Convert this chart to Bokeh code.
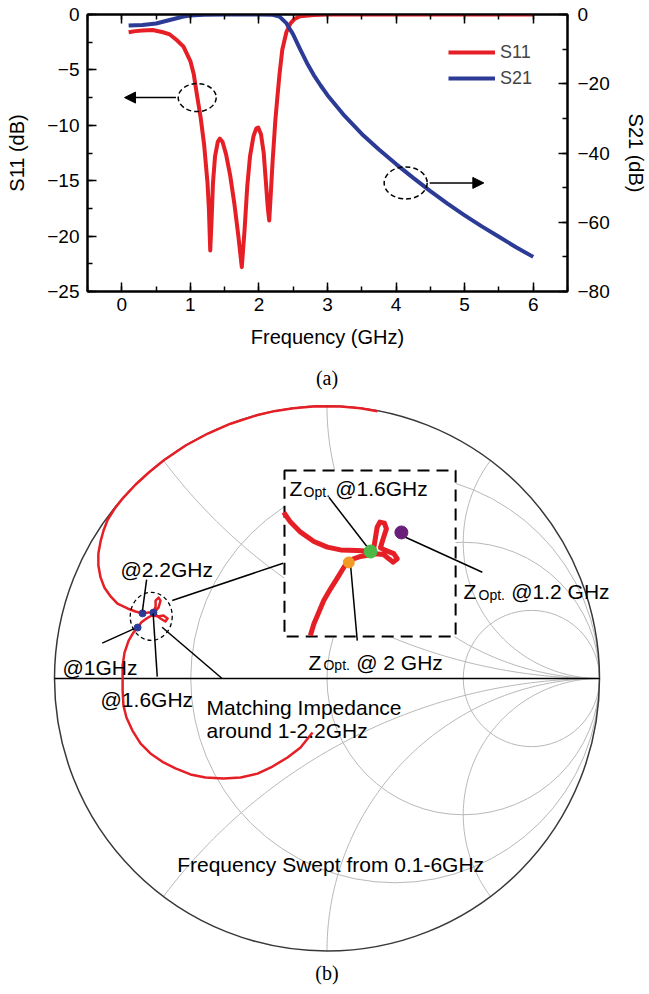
import math
import numpy as np
from bokeh.plotting import figure
from bokeh.models import (Range1d, LinearAxis, SingleIntervalTicker, Legend, LegendItem,
                          Arrow, NormalHead, CustomJSTickFormatter)
from bokeh.core.properties import value
from bokeh.embed import file_html
from bokeh.resources import INLINE

SANS = "Liberation Sans"
SERIF = "Liberation Serif"
RED = "#e61e25"
BLUE = "#2c3b96"
GRID = "#b8b8b8"

# ---------------- (a) S-parameters vs frequency ----------------
s11_freq = [0.1, 0.2, 0.3, 0.45, 0.6, 0.7, 0.8, 0.9, 1.0, 1.05, 1.1, 1.15, 1.2, 1.25,
            1.27, 1.29, 1.31, 1.33, 1.36, 1.4, 1.43, 1.47, 1.52, 1.58, 1.64, 1.7, 1.75,
            1.79, 1.83, 1.87, 1.92, 1.96, 1.99, 2.03, 2.07, 2.1, 2.13, 2.15, 2.17, 2.2,
            2.24, 2.27, 2.3, 2.34, 2.4, 2.46, 2.52, 2.6, 2.8, 3.0, 4.0, 5.0, 6.0]
s11_db = [-1.6, -1.5, -1.45, -1.4, -1.6, -1.8, -2.3, -2.9, -4.2, -5.4, -7.4, -9.3, -11.7, -15.2,
          -17.5, -21.3, -18.5, -15.2, -12.8, -11.5, -11.2, -11.5, -12.6, -14.5, -17.0, -20.0, -22.8,
          -19.5, -15.5, -12.8, -11.0, -10.3, -10.2, -10.8, -12.5, -15.0, -17.5, -18.6, -16.5, -13.2,
          -9.5, -7.4, -5.4, -3.2, -1.6, -0.8, -0.4, -0.15, -0.05, 0.0, 0.0, 0.0, 0.0]

s21_freq = [0.1, 0.3, 0.5, 0.7, 0.8, 0.9, 1.0, 1.2, 1.5, 2.0, 2.2, 2.3, 2.4, 2.5, 2.6, 2.7,
            2.8, 2.9, 3.0, 3.25, 3.5, 3.75, 4.0, 4.25, 4.5, 4.75, 5.0, 5.25, 5.5, 5.75, 6.0]
s21_db = [-3.2, -3.0, -2.6, -1.6, -1.1, -0.6, -0.3, -0.05, 0.0, 0.0, -0.1, -0.6, -2.5, -5.8, -10.0, -14.0,
          -17.5, -20.5, -23.3, -29.3, -34.5, -39.0, -43.2, -47.2, -51.0, -54.6, -58.0, -61.2, -64.2, -67.2, -70.0]

freq_lim = (-0.5, 6.5)
s11_lim = (-25, 0)
s21_lim = (-80, 0)

p1 = figure(width=649, height=360, output_backend="svg", toolbar_location=None,
            x_range=Range1d(*freq_lim), y_range=Range1d(*s11_lim),
            min_border_left=87, min_border_right=80, min_border_top=14, min_border_bottom=69,
            x_axis_location=None, y_axis_location=None)
p1.extra_y_ranges = {"s21": Range1d(*s21_lim)}
p1.xgrid.visible = False
p1.ygrid.visible = False
p1.outline_line_color = "black"
p1.outline_line_width = 2
p1.background_fill_color = "white"
p1.border_fill_color = "white"


def style_axis(ax, standoff):
    ax.axis_line_color = "black"
    ax.axis_line_width = 2
    ax.major_tick_line_color = "black"
    ax.major_tick_line_width = 1.5
    ax.minor_tick_line_color = "black"
    ax.minor_tick_line_width = 1.5
    ax.major_tick_in = 9
    ax.major_tick_out = 0
    ax.minor_tick_in = 5
    ax.minor_tick_out = 0
    ax.major_label_text_font = SANS
    ax.major_label_text_font_size = "19px"
    ax.major_label_text_color = "black"
    ax.major_label_standoff = standoff
    ax.axis_label_text_font = SANS
    ax.axis_label_text_font_size = "20px"
    ax.axis_label_text_font_style = "normal"
    ax.axis_label_text_color = "black"
    ax.axis_label_standoff = 12


bottom = LinearAxis(ticker=SingleIntervalTicker(interval=1, num_minor_ticks=2),
                    axis_label="Frequency (GHz)")
style_axis(bottom, 6)
left = LinearAxis(ticker=SingleIntervalTicker(interval=5, num_minor_ticks=2),
                  axis_label="S11 (dB)")
style_axis(left, 8)
left.axis_label_standoff = 16
right = LinearAxis(y_range_name="s21",
                   ticker=SingleIntervalTicker(interval=20, num_minor_ticks=2),
                   axis_label="S21 (dB)")
style_axis(right, 10)
top = LinearAxis(ticker=SingleIntervalTicker(interval=1, num_minor_ticks=2),
                 formatter=CustomJSTickFormatter(code="return ''"))
style_axis(top, 0)
top.major_label_text_font_size = "0px"

p1.add_layout(bottom, "below")
p1.add_layout(left, "left")
p1.add_layout(right, "right")
p1.add_layout(top, "above")

r11 = p1.line(s11_freq, s11_db, line_color=RED, line_width=4, line_join="round")
r21 = p1.line(s21_freq, s21_db, line_color=BLUE, line_width=4, line_join="round",
              y_range_name="s21")

legend = Legend(items=[LegendItem(label="S11", renderers=[r11]),
                       LegendItem(label="S21", renderers=[r21])],
                location=(361, 200), orientation="vertical",
                border_line_color=None, background_fill_alpha=0,
                padding=0, spacing=0, margin=0,
                glyph_width=47, glyph_height=26, label_height=26, label_standoff=5,
                label_text_font=SANS, label_text_font_size="18px")
p1.add_layout(legend)

# dashed callouts pointing to the axis each curve belongs to
p1.ellipse(x=[1.1, 4.14], y=[-7.5, -15.2], width=[38, 43], height=[28, 32],
           width_units="screen", height_units="screen",
           fill_color=None, line_color="black", line_width=1.5, line_dash="5 3")
p1.add_layout(Arrow(end=NormalHead(size=11, fill_color="black", line_color="black"),
                    x_start=0.79, y_start=-7.5, x_end=0.04, y_end=-7.5,
                    line_color="black", line_width=1.5))
p1.add_layout(Arrow(end=NormalHead(size=11, fill_color="black", line_color="black"),
                    x_start=4.49, y_start=-15.2, x_end=5.28, y_end=-15.2,
                    line_color="black", line_width=1.5))

# ---------------- (b) Smith chart of the matching impedance ----------------
# reflection coefficient trajectory, 0.1 GHz -> 6 GHz
gamma_re = [-0.053, -0.097, -0.145, -0.200, -0.255, -0.317, -0.380, -0.446, -0.501, -0.556,
            -0.600, -0.648, -0.684, -0.714, -0.736, -0.747, -0.750, -0.750, -0.750, -0.743,
            -0.728, -0.710, -0.695, -0.681, -0.662, -0.644, -0.622, -0.600, -0.585, -0.593,
            -0.611, -0.629, -0.637, -0.629, -0.629, -0.618, -0.611, -0.618, -0.633, -0.655,
            -0.677, -0.703, -0.732, -0.769, -0.794, -0.817, -0.831, -0.839, -0.839, -0.831,
            -0.820, -0.806, -0.776, -0.747, -0.703, -0.655, -0.600, -0.519, -0.437, -0.354,
            -0.255, -0.189, -0.123, -0.042, 0.050, 0.123, 0.185]
gamma_im = [-0.198, -0.253, -0.290, -0.323, -0.349, -0.363, -0.367, -0.363, -0.352, -0.330,
            -0.308, -0.275, -0.239, -0.191, -0.143, -0.099, -0.044, 0.000, 0.048, 0.095,
            0.139, 0.169, 0.187, 0.206, 0.220, 0.231, 0.228, 0.231, 0.220, 0.209,
            0.220, 0.235, 0.242, 0.264, 0.286, 0.297, 0.286, 0.261, 0.242, 0.242,
            0.239, 0.246, 0.257, 0.275, 0.301, 0.334, 0.371, 0.415, 0.459, 0.503,
            0.543, 0.580, 0.628, 0.664, 0.711, 0.755, 0.800, 0.855, 0.899, 0.935,
            0.967, 0.982, 0.992, 0.999, 0.998, 0.992, 0.981]

# marked frequencies on the trajectory
mark_re = [-0.695, -0.637, -0.677]
mark_im = [0.187, 0.242, 0.239]

# magnified view of the 1-2.2 GHz cluster
zoom_re = [-0.061, -0.048, -0.030, -0.012, 0.013, 0.040, 0.062, 0.080, 0.123, 0.178,
           0.208, 0.227, 0.243, 0.258, 0.245, 0.215, 0.196, 0.206, 0.218, 0.211,
           0.194, 0.184, 0.172, 0.160, 0.111, 0.050, 0.001, -0.048, -0.097, -0.134, -0.159]
zoom_im = [0.158, 0.201, 0.243, 0.286, 0.329, 0.372, 0.408, 0.433, 0.448, 0.458,
           0.455, 0.439, 0.427, 0.439, 0.458, 0.470, 0.480, 0.513, 0.549, 0.570,
           0.574, 0.555, 0.480, 0.467, 0.470, 0.472, 0.482, 0.503, 0.537, 0.574, 0.610]

# optimum impedances at 1.2, 1.6 and 2 GHz (magnified view)
zopt_re = [0.273, 0.160, 0.080]
zopt_im = [0.536, 0.466, 0.426]
zopt_col = ["#6a1f7a", "#4cb848", "#f39a26"]
zopt_size = [13, 13, 11]

# Smith grid values
r_circles = [1 / 3, 1, 3]
x_arcs = [0.5, 1, 2]

PX = 272.5  # pixels per unit reflection coefficient
p2 = figure(width=649, height=634, output_backend="svg", toolbar_location=None,
            x_range=Range1d(-326.5 / PX, 322.5 / PX), y_range=Range1d(-316 / PX, 318 / PX),
            min_border=0, x_axis_location=None, y_axis_location=None)
p2.xgrid.visible = False
p2.ygrid.visible = False
p2.outline_line_color = None
p2.background_fill_color = "white"
p2.border_fill_color = "white"

# constant resistance circles
p2.circle(x=[r / (1 + r) for r in r_circles], y=[0] * len(r_circles),
          radius=[1 / (1 + r) for r in r_circles],
          fill_color=None, line_color=GRID, line_width=1)
# constant reactance arcs, clipped to the unit circle
for xv in x_arcs:
    rad = 1 / xv
    ix = (xv ** 2 - 1) / (xv ** 2 + 1)
    iy = 2 * xv / (xv ** 2 + 1)
    a_end = math.atan2(iy - rad, ix - 1)
    if a_end > -math.pi / 2:
        a_end -= 2 * math.pi
    th = np.linspace(-math.pi / 2, a_end, 120)
    ax_ = 1 + rad * np.cos(th)
    ay_ = rad + rad * np.sin(th)
    p2.line(ax_, ay_, line_color=GRID, line_width=1)
    p2.line(ax_, -ay_, line_color=GRID, line_width=1)

p2.circle(x=[0], y=[0], radius=[1], fill_color=None, line_color="#383838", line_width=1.5)
p2.line([-1, 1], [0, 0], line_color="black", line_width=1.3)

p2.line(gamma_re, gamma_im, line_color=RED, line_width=2.5, line_join="round")
p2.scatter(mark_re, mark_im, size=7, fill_color=BLUE, line_color=BLUE)

# dashed ring round the cluster
p2.ellipse(x=[-0.645], y=[0.228], width=[42], height=[48],
           width_units="screen", height_units="screen",
           fill_color=None, line_color="black", line_width=1.3, line_dash="4 3")

# magnified inset
p2.quad(left=[-0.156], right=[0.472], top=[0.763], bottom=[0.154],
        fill_color="white", line_color="black", line_width=2, line_dash="12 7")
p2.line(zoom_re, zoom_im, line_color=RED, line_width=5, line_join="round")

# leader lines
p2.segment(x0=[-0.662, -0.825, -0.623, -0.385, -0.568, 0.007, 0.282, 0.086],
           y0=[0.363, 0.130, 0.007, 0.000, 0.286, 0.665, 0.521, 0.421],
           x1=[-0.677, -0.709, -0.638, -0.605, -0.161, 0.160, 0.570, 0.111],
           y1=[0.250, 0.182, 0.239, 0.188, 0.423, 0.467, 0.390, 0.139],
           line_color="black", line_width=1.5)

p2.scatter(zopt_re, zopt_im, size=zopt_size, fill_color=zopt_col, line_color=zopt_col)

big = dict(text_font=value(SANS), text_font_size="21px", text_color="black",
           text_baseline="alphabetic", text_align="left")
p2.text(x=[-0.758, -0.971, -0.831, -0.442, -0.442, -0.550],
        y=[0.400, 0.042, -0.077, -0.105, -0.191, -0.683],
        text=["@2.2GHz", "@1GHz", "@1.6GHz", "Matching Impedance", "around 1-2.2GHz",
              "Frequency Swept from 0.1-6GHz"], **big)
# Z_Opt labels
p2.text(x=[-0.138, 0.501, -0.068], y=[0.697, 0.319, 0.059], text=["Z", "Z", "Z"], **big)
p2.text(x=[-0.086, 0.556, -0.013], y=[0.684, 0.308, 0.048], text=["Opt.", "Opt.", "Opt."],
        text_font=value(SANS), text_font_size="14px", text_color="black",
        text_baseline="alphabetic", text_align="left")
p2.text(x=[0.030, 0.676, 0.107], y=[0.697, 0.319, 0.059],
        text=["@1.6GHz", "@1.2 GHz", "@ 2 GHz"], **big)

# panel captions
p2.text(x=[0.0, 0.0], y=[1.079, -1.0], text=["(a)", "(b)"],
        text_font=value(SERIF), text_font_size="20px", text_color="black",
        text_baseline="middle", text_align="center", y_offset=[-6, 22])

# two independent roots stacked on the page
open("out.html", "w").write(file_html([p1, p2], INLINE))
